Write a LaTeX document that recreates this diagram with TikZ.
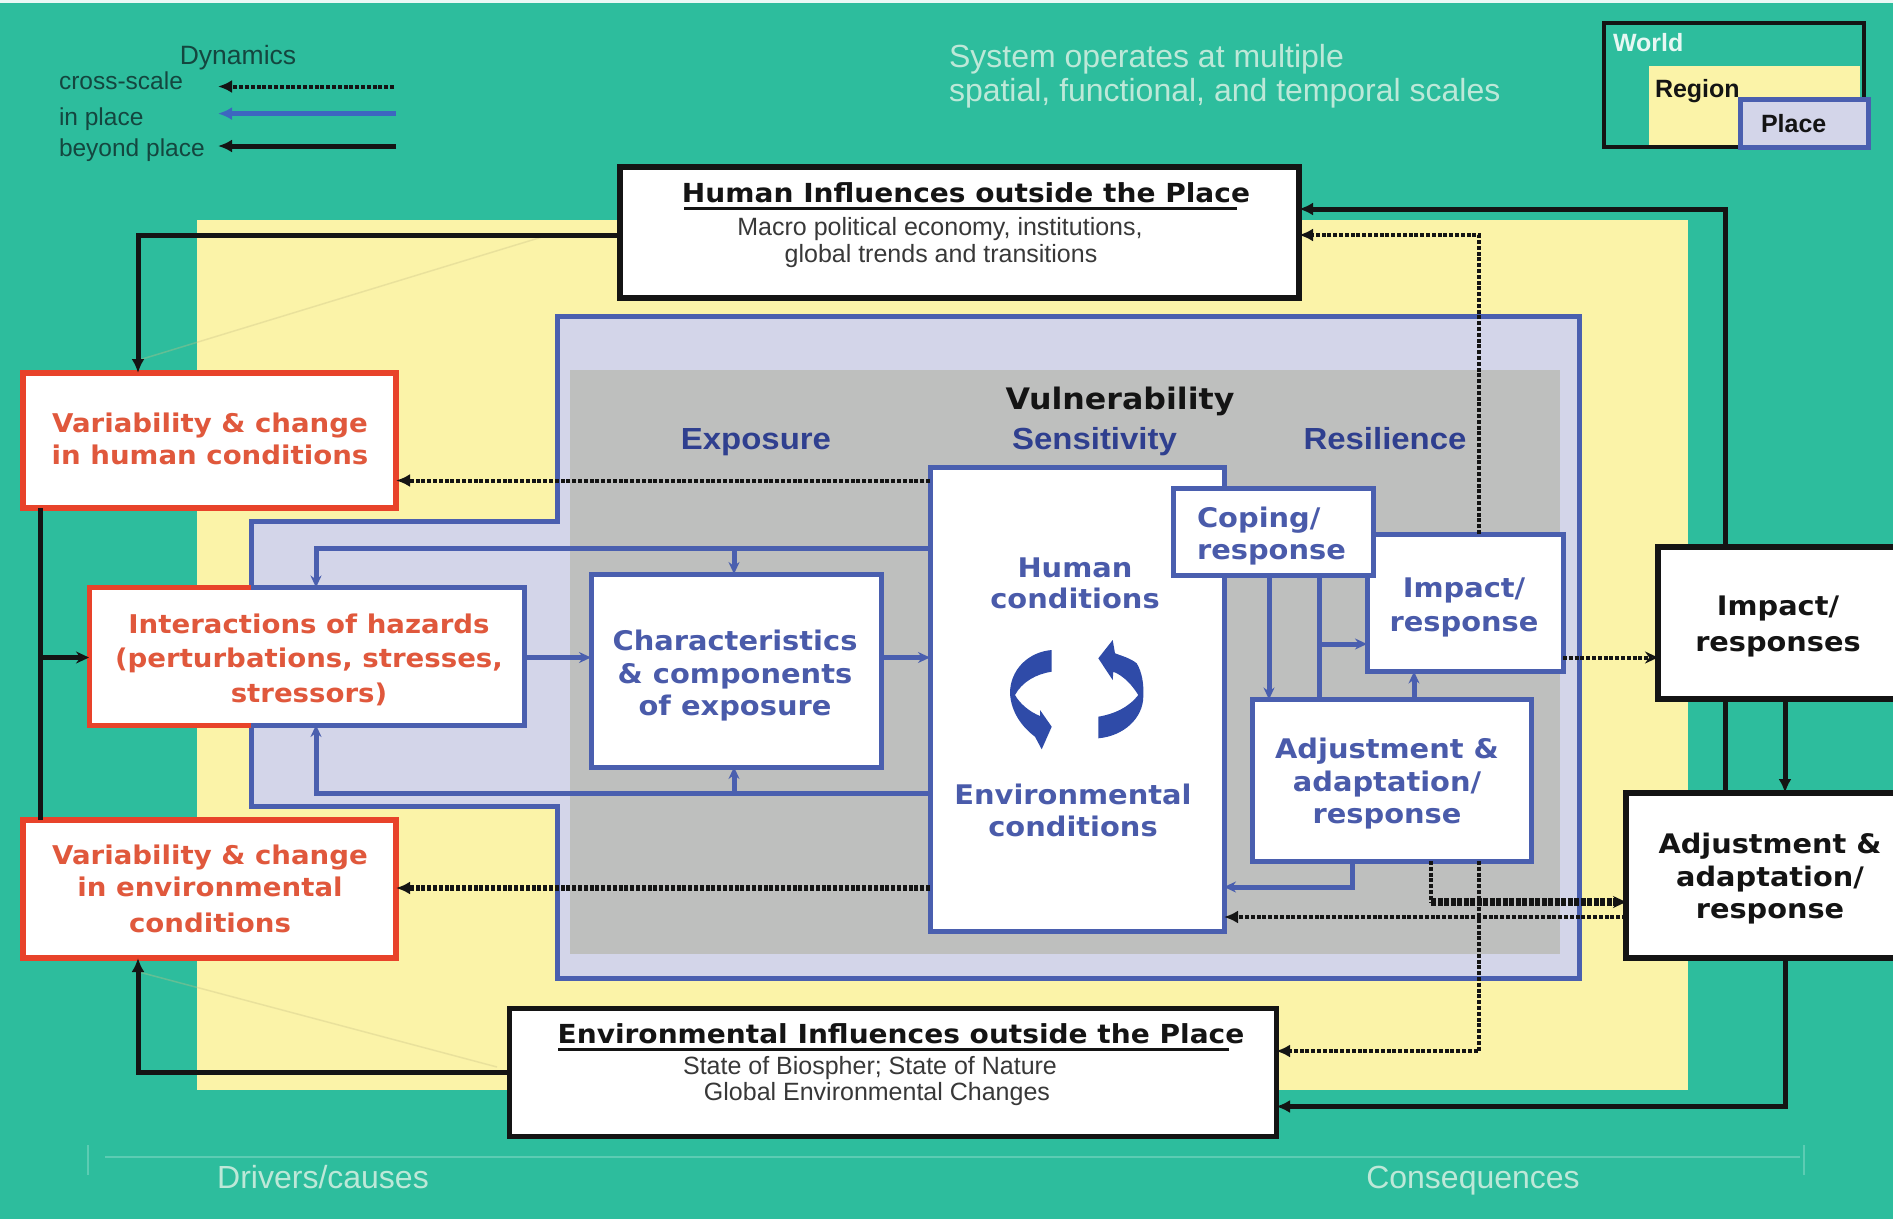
\documentclass[tikz,border=0pt]{standalone}
\usepackage{fontspec}
\setmainfont{Liberation Sans}
\newfontfamily\vf[FakeStretch=1.07]{DejaVu Sans}
\newfontfamily\nf[FakeStretch=1.08]{Liberation Sans}
\usetikzlibrary{arrows.meta}
\newcommand\fs[1]{\fontsize{#1}{#1}\selectfont}
\definecolor{teal0}{HTML}{2DBD9D}
\definecolor{yel0}{HTML}{FBF3A8}
\definecolor{lav0}{HTML}{D3D5E9}
\definecolor{gray0}{HTML}{BEBFBE}
\definecolor{blue0}{HTML}{4A5FAF}
\definecolor{blue1}{HTML}{3D66C0}
\definecolor{blue2}{HTML}{2F4BA8}
\definecolor{red0}{HTML}{E8432A}
\definecolor{redt}{HTML}{E0583C}
\definecolor{bluet}{HTML}{4A5BAA}
\definecolor{navy0}{HTML}{2F3F8F}
\definecolor{ink}{HTML}{141414}
\definecolor{pale}{HTML}{BDE8D8}
\definecolor{dkg}{HTML}{14463F}
\tikzset{
  x=1pt,y=-1pt,
  tipb/.tip={Latex[length=14pt,width=13pt]},
  tips/.tip={Stealth[length=12pt,width=11pt,open,fill=blue0!45!lav0]},
  tipo/.tip={Stealth[length=13pt,width=12pt,open,fill=black!55!yel0]},
  bx/.style n args={4}{rectangle,inner sep=0pt,outer sep=0pt,fill=white,
    at={({(#1+#3)/2},{(#2+#4)/2})},
    minimum width={(#3-#1)*1pt},minimum height={(#4-#2)*1pt}},
  blackbox/.style={draw=ink,line width=6pt},
  thinblack/.style={draw=ink,line width=4.5pt},
  bluebox/.style={draw=blue0,line width=5pt},
  redbox/.style={draw=red0,line width=5.5pt},
  blk/.style={draw=ink,line width=5pt},
  blu/.style={draw=blue0,line width=5pt},
  dot/.style={draw=ink,line width=4pt,dash pattern=on 4pt off 1.8pt},
  dotb/.style={draw=ink,line width=8pt,dash pattern=on 5pt off 1.5pt},
  txt/.style={inner sep=0pt,outer sep=0pt,align=center,anchor=mid,yshift=-7pt},
  hd/.style={txt,font=\vf\bfseries\fs{26.9},text=ink},
  hh/.style={txt,font=\vf\bfseries\fs{26.2},text=ink},
  redtx/.style={txt,font=\vf\bfseries\fs{25.8},text=redt},
  blutx/.style={txt,font=\vf\bfseries\fs{27},text=bluet},
  navy/.style={txt,font=\nf\bfseries\fs{30.5},text=navy0},
  sub/.style={txt,font=\fs{25},text=black!78},
  leg/.style={txt,anchor=mid west,font=\fs{24.5},text=dkg},
  faint/.style={draw=black!20!yel0,line width=1.5pt,opacity=.35},
  axisl/.style={draw=teal0!55!white,line width=2pt,opacity=.5},
}
\begin{document}
\begin{tikzpicture}
\useasboundingbox (0,0) rectangle (1893,1219);
\clip (0,0) rectangle (1893,1219);
% background regions
\fill[teal0] (0,0) rectangle (1893,1219);
\fill[white!90!teal0] (0,0) rectangle (1893,3);
\fill[yel0] (197,220) rectangle (1688,1090);
\draw[faint] (542,237) -- (139,360);
\draw[faint] (139,972) -- (497,1067);
\draw[blue0,line width=5pt,fill=lav0,line join=miter]
  (557,316) -- (1579,316) -- (1579,978) -- (557,978) -- (557,806) -- (251,806)
  -- (251,521) -- (557,521) -- cycle;
\fill[gray0] (570,370) rectangle (1560,954);
% legend inset
\node[bx={1604}{23}{1864}{147},fill=none,thinblack] (world) {};
\fill[yel0] (1649,66) rectangle (1860,145);
\node[bx={1740}{99}{1868}{147},fill=lav0,bluebox] (placekey) {};
\node[txt,anchor=mid west,font=\bfseries\fs{25},text=white!88!teal0] (tworld) at (1613,42) {World};
\node[txt,anchor=mid west,font=\bfseries\fs{25},text=ink] (tregion) at (1655,87.5) {Region};
\node[txt,anchor=mid west,font=\bfseries\fs{25},text=ink] (tplace) at (1761,122.5) {Place};
% legend
\node[leg,anchor=mid,font=\fs{26.5}] (tdyn) at (238,55) {Dynamics};
\node[leg] (tcross) at (59,80) {cross-scale};
\node[leg] (tin) at (59,115.5) {in place};
\node[leg] (tbey) at (59,147) {beyond place};
\coordinate (la) at (394,86.5); \coordinate (lb) at (218,86.5);
\coordinate (lc) at (396,113.6); \coordinate (ld) at (218,113.6);
\coordinate (le) at (396,146); \coordinate (lf) at (218,146);
\draw[dot,-tipb] (la) -- (lb);
\draw[draw=blue1,line width=5pt,-{Latex[length=14pt,width=13pt]}] (lc) -- (ld);
\draw[blk,-tipb] (le) -- (lf);
% system text
\node[txt,anchor=mid west,align=left,font=\fs{32},text=pale] (tsys1) at (949,58) {System operates at multiple};
\node[txt,anchor=mid west,align=left,font=\fs{32},text=pale] (tsys2) at (949,91.5) {spatial, functional, and temporal scales};
% boxes
\node[bx={620}{167}{1299}{298},blackbox] (hi) {};
\node[bx={509}{1008}{1276}{1136},blackbox,line width=5pt] (ei) {};
\node[bx={23}{373}{396}{508},redbox] (vh) {};
\node[bx={23}{820}{396}{958},redbox] (ve) {};
\node[bx={89}{587.5}{524}{725}] (ih) {};
\draw[red0,line width=5pt] (251,587.5) -- (89,587.5) -- (89,725) -- (251,725);
\draw[blue0,line width=5pt] (251,725) -- (524,725) -- (524,587.5) -- (251,587.5);
\node[bx={591}{574}{881}{767},bluebox] (ch) {};
\node[bx={930}{467}{1224}{931},bluebox] (cc) {};
\node[bx={1367}{534}{1563}{671.5},bluebox] (im) {};
\node[bx={1173}{488}{1373}{575},bluebox] (co) {};
\node[bx={1252}{699.5}{1531}{861},bluebox] (ad) {};
\node[bx={1658}{547}{1920}{699},blackbox] (imo) {};
\node[bx={1626}{793}{1920}{958},blackbox] (ado) {};
% black connectors
\draw[blk,-tipb] (hi.west |- 0,235) -| (138,0 |- vh.north);
\draw[blk,-tipb] (ei.west |- 0,1072) -| (138,0 |- ve.south);
\draw[blk] (40,0 |- vh.south) -- (40,0 |- ve.north);
\coordinate (jl) at (40,657.5);
\draw[blk,-tipo] (jl) -- (ih.west |- jl);
\draw[blk,-tipb] (1725,0 |- imo.north) |- (hi.east |- 0,209);
\draw[blk] (1725,0 |- imo.south) -- (1725,0 |- ado.north);
\draw[blk,-tipb] (1785,0 |- imo.south) -- (1785,0 |- ado.north);
\draw[blk,-tipb] (1785,0 |- ado.south) |- (ei.east |- 0,1106.5);
% dotted connectors
\draw[dot,-tipb] (1479,0 |- im.north) |- (hi.east |- 0,235);
\draw[dot,-tipb] (cc.west |- 0,480.5) -- (vh.east |- 0,480.5);
\draw[dot,line width=5.5pt,-tipb] (cc.west |- 0,888) -- (ve.east |- 0,888);
\draw[dot,-tipb] (1479,0 |- ad.south) |- (ei.east |- 0,1051);
\draw[dot] (1431,0 |- ad.south) -- (1431,902);
\draw[dotb,-tipo] (1431,902) -- (ado.west |- 0,902);
\draw[dot,-tipb] (ado.west |- 0,917) -- (cc.east |- 0,917);
\draw[dot,-tipo] (im.east |- 0,657.5) -- (imo.west |- 0,657.5);
% blue connectors
\draw[blu,-tips] (cc.west |- 0,548) -| (316,0 |- ih.north);
\draw[blu,-tips] (734,548) -- (734,0 |- ch.north);
\draw[blu,-tips] (cc.west |- 0,793) -| (316,0 |- ih.south);
\draw[blu,-tips] (734,793) -- (734,0 |- ch.south);
\draw[blu,-tips] (ih.east |- 0,657.5) -- (ch.west |- 0,657.5);
\draw[blu,-tips] (ch.east |- 0,657.5) -- (cc.west |- 0,657.5);
\draw[blu,-tips] (1269,0 |- co.south) -- (1269,0 |- ad.north);
\draw[blu] (1319,0 |- co.south) -- (1319,0 |- ad.north);
\draw[blu,-tips] (1319,644) -- (im.west |- 0,644);
\draw[blu,-tips] (1414,0 |- ad.north) -- (1414,0 |- im.south);
\draw[blu,-tips] (1352,0 |- ad.south) |- (cc.east |- 0,887);
% texts
\node[hh] (t1) at (966,193) {Human Influences outside the Place};
\draw[ink,line width=3pt] (684,208) -- (1237,208);
\node[sub] (t2) at (940,225.7) {Macro political economy, institutions,};
\node[sub] (t3) at (941,253) {global trends and transitions};
\node[hh] (t4) at (901,1034) {Environmental Influences outside the Place};
\draw[ink,line width=3pt] (558,1049) -- (1229,1049);
\node[sub] (t5) at (870,1064.5) {State of Biospher; State of Nature};
\node[sub] (t6) at (877,1091) {Global Environmental Changes};
\node[redtx] (t7) at (210,423) {Variability \& change};
\node[redtx] (t8) at (210,455) {in human conditions};
\node[redtx] (t9) at (309,624) {Interactions of hazards};
\node[redtx] (t10) at (309,657.5) {(perturbations, stresses,};
\node[redtx] (t11) at (309,692.5) {stressors)};
\node[redtx] (t12) at (210,855) {Variability \& change};
\node[redtx] (t13) at (210,887) {in environmental};
\node[redtx] (t14) at (210,922.5) {conditions};
\node[hd,font=\vf\bfseries\fs{29.6}] (t15) at (1120,400) {Vulnerability};
\node[navy] (t16) at (756,440) {Exposure};
\node[navy] (t17) at (1094.5,440) {Sensitivity};
\node[navy] (t18) at (1385,440) {Resilience};
\node[blutx] (t19) at (1075,568) {Human};
\node[blutx] (t20) at (1075,599) {conditions};
\node[blutx] (t21) at (1073,795) {Environmental};
\node[blutx] (t22) at (1073,827) {conditions};
\node[blutx] (t23) at (735,641) {Characteristics};
\node[blutx] (t24) at (735,673.4) {\& components};
\node[blutx] (t25) at (735,706) {of exposure};
\node[blutx,anchor=mid west] (t26) at (1197,517.5) {Coping/};
\node[blutx,anchor=mid west] (t27) at (1197,549.5) {response};
\node[blutx] (t28) at (1464,587.5) {Impact/};
\node[blutx] (t29) at (1464,621.7) {response};
\node[blutx] (t30) at (1387,749) {Adjustment \&};
\node[blutx] (t31) at (1387,782) {adaptation/};
\node[blutx] (t32) at (1387,814) {response};
\node[hd] (t33) at (1778,606) {Impact/};
\node[hd] (t34) at (1778,642) {responses};
\node[hd] (t35) at (1770,843.5) {Adjustment \&};
\node[hd] (t36) at (1770,876.5) {adaptation/};
\node[hd] (t37) at (1770,908.5) {response};
% circular arrows
\fill[blue2] (1051.7,650) .. controls (1028,652) and (1010,670) .. (1010,693.3)
  .. controls (1011,712) and (1022,727) .. (1035,736.7) -- (1041.7,749.3) -- (1051.7,726.7)
  -- (1040,710) -- (1040,716) .. controls (1030,712) and (1020,704) .. (1015,695)
  .. controls (1022,682) and (1036,674) .. (1051.7,671.7) -- cycle;
\fill[blue2] (1098.3,738.3) .. controls (1124,736) and (1143,718) .. (1143.3,696.7)
  .. controls (1144,684) and (1142,672) .. (1136.7,663.3) .. controls (1130,658) and (1122,656) .. (1115,653.3)
  -- (1112.7,640) -- (1098.3,658.3) -- (1112.7,680) -- (1113.3,671.7)
  .. controls (1124,676) and (1132,685) .. (1138.3,695)
  .. controls (1128,708) and (1114,714) .. (1098.3,716.7) -- cycle;
% bottom axis
\coordinate (ax0) at (105,1157); \coordinate (ax1) at (1800,1157);
\draw[axisl] (ax0) -- (ax1);
\draw[axisl] (88,1145) -- (88,1175);
\draw[axisl] (1804,1145) -- (1804,1175);
\node[txt,font=\fs{32},text=pale] (tdr) at (323,1179) {Drivers/causes};
\node[txt,font=\fs{32},text=pale] (tcq) at (1473,1179) {Consequences};
\end{tikzpicture}
\end{document}
